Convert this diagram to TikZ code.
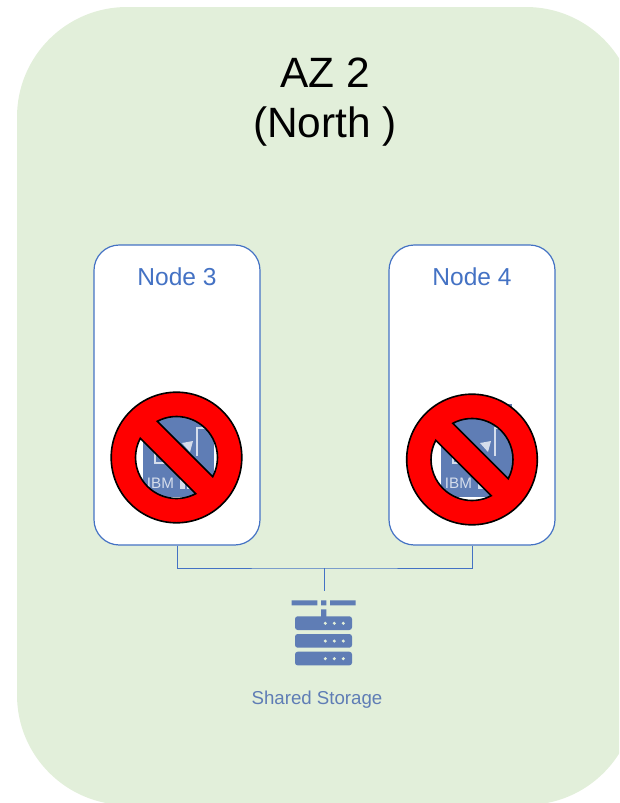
\documentclass[tikz,border=0pt]{standalone}
\usepackage{fontspec}
\usepackage{xcolor}
\setmainfont{Liberation Sans}
\usetikzlibrary{positioning}
\definecolor{azgreen}{HTML}{E2EFDA}
\definecolor{nodeblue}{HTML}{4472C4}
\definecolor{iconblue}{HTML}{5F7DB5}
\definecolor{iconlight}{HTML}{D5DDEC}
\tikzset{
  azbox/.style={fill=azgreen,rounded corners=82.5pt},
  nodebox/.style={draw=nodeblue,fill=white,line width=0.9pt,rounded corners=19pt,minimum width=124.5pt,minimum height=225pt,inner sep=0pt},
  nodelabel/.style={text=nodeblue,font=\fontsize{18.4}{22}\selectfont},
  link/.style={draw=nodeblue,line width=0.7pt},
  nosign/.style={draw=black,fill=red,line width=1.2pt,even odd rule},
  iconline/.style={draw=iconlight,line width=0.9pt},
}
\newcommand{\ibmicon}[3]{
  \fill[iconblue] (#1,404) rectangle ++(71,93);
  \node[text=iconlight,font=\fontsize{11.4}{12}\selectfont,inner sep=0pt] (#3) at (#1+17.5,483) {IBM};
  \draw[iconline] (#1+12,449) -- (#1+12,463) -- (#1+24,463);
  \draw[iconline] (#1+54,456) -- (#1+54,428) -- (#1+67,428);
  \fill[iconlight] (#1+39,443) -- (#1+50,441) -- (#1+47,452) -- cycle;
  \fill[iconlight] (#1+37,476) rectangle ++(5,13);
  \fill[iconlight] (#1+44,476) rectangle ++(4,13);
}
\newcommand{\nosymbol}[3]{
  \filldraw[nosign,shift={(#1,#2)}] (0,0) circle[radius=65.3]
    (-118:41) arc[start angle=-118,end angle=28,radius=41] -- cycle
    (62:41) arc[start angle=62,end angle=208,radius=41] -- cycle;
  \coordinate (#3) at (#1,#2);
}
\begin{document}
\begin{tikzpicture}[x=0.75pt,y=-0.75pt]
  \useasboundingbox (0,0) rectangle (619,803);
  \begin{scope}
    \clip (0,0) rectangle (619,803);
    \fill[azbox] (17,7) rectangle (636,805);
  \end{scope}
  \node[font=\fontsize{31.8}{37.5}\selectfont,align=center] (title) at (325,102) {AZ 2\\(North )};
  \node[nodebox] (node3) at (177,395) {};
  \node[nodebox] (node4) at (472,395) {};
  \node[nodelabel] (label3) at (177,277) {Node 3};
  \node[nodelabel] (label4) at (472,277) {Node 4};
  \coordinate (junction) at (324.3,568);
  \coordinate (storagetop) at (324.3,591);
  \draw[link] (node3.south) |- (junction) -| (node4.south);
  \draw[link] (junction) -- (storagetop);
  \fill[iconblue] (291.7,600.3) rectangle (317.3,605.3)
    (321,600.3) rectangle (326.3,605.3)
    (330,600.3) rectangle (355.7,605.3)
    (321,609.3) rectangle (326.3,618);
  \foreach \y in {616.3,634,651.7} {
    \fill[iconblue,rounded corners=2pt] (295,\y) rectangle (352,\y+13.7);
    \foreach \x in {325.3,334.3,343.3}
      \fill[azgreen] (\x,\y+7) circle[radius=1.7];
  }
  \node[text=iconblue,font=\fontsize{14}{16}\selectfont] (storage) at (317,700) {Shared Storage};
  \ibmicon{143}{404}{ibm3}
  \ibmicon{441}{404}{ibm4}
  \nosymbol{176.5}{457.5}{stop3}
  \nosymbol{472}{459.5}{stop4}
\end{tikzpicture}
\end{document}
